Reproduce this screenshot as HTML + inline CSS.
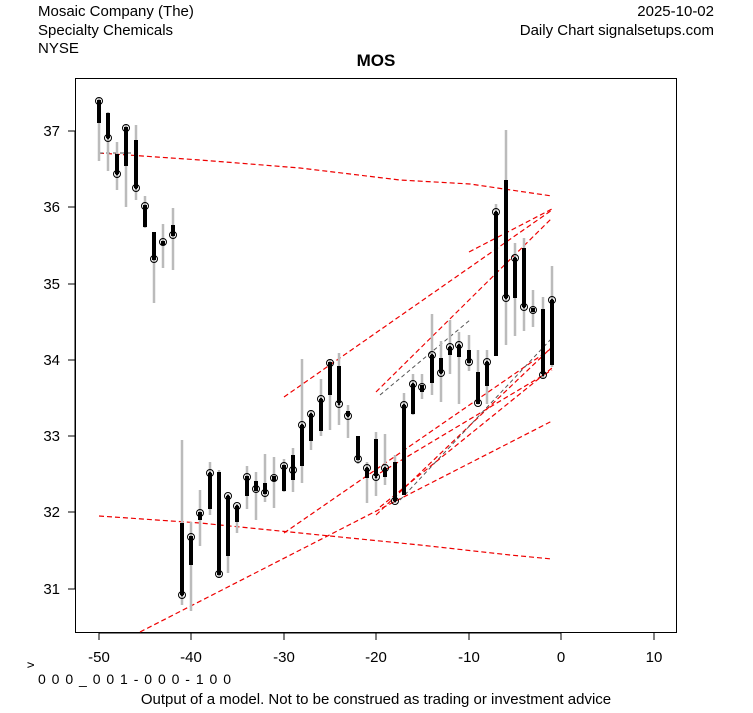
<!DOCTYPE html><html><head><style>body{margin:0;background:#fff}svg{font-family:"Liberation Sans",sans-serif}</style></head><body>
<svg width="753" height="708" xmlns="http://www.w3.org/2000/svg">
<defs><g id="o"><circle r="3.5" fill="none" stroke="#000" stroke-width="1"/><circle r="1.3" fill="#000"/></g></defs>
<rect width="753" height="708" fill="#fff"/>
<text x="38" y="16" font-size="15">Mosaic Company (The)</text>
<text x="38" y="35" font-size="15">Specialty Chemicals</text>
<text x="38" y="53" font-size="15">NYSE</text>
<text x="714" y="16" font-size="15" text-anchor="end">2025-10-02</text>
<text x="714" y="35" font-size="15" text-anchor="end">Daily Chart signalsetups.com</text>
<text x="376" y="66" font-size="17" font-weight="bold" text-anchor="middle">MOS</text>
<rect x="75.5" y="78.5" width="601" height="554" fill="none" stroke="#000"/>
<g stroke="#000"><line x1="99" y1="633" x2="561" y2="633"/>
<line x1="99" y1="633" x2="99" y2="640"/><line x1="191" y1="633" x2="191" y2="640"/><line x1="284" y1="633" x2="284" y2="640"/><line x1="376" y1="633" x2="376" y2="640"/><line x1="469" y1="633" x2="469" y2="640"/><line x1="561" y1="633" x2="561" y2="640"/><line x1="654" y1="633" x2="654" y2="640"/>
<line x1="75" y1="131" x2="75" y2="589"/>
<line x1="68" y1="131" x2="75" y2="131"/><line x1="68" y1="207" x2="75" y2="207"/><line x1="68" y1="284" x2="75" y2="284"/><line x1="68" y1="360" x2="75" y2="360"/><line x1="68" y1="436" x2="75" y2="436"/><line x1="68" y1="512" x2="75" y2="512"/><line x1="68" y1="589" x2="75" y2="589"/></g>
<g font-size="15" text-anchor="middle"><text x="99" y="662">-50</text><text x="191" y="662">-40</text><text x="284" y="662">-30</text><text x="376" y="662">-20</text><text x="469" y="662">-10</text><text x="561" y="662">0</text><text x="654" y="662">10</text></g>
<g font-size="15" text-anchor="end"><text x="60" y="136">37</text><text x="60" y="212">36</text><text x="60" y="289">35</text><text x="60" y="365">34</text><text x="60" y="441">33</text><text x="60" y="517">32</text><text x="60" y="594">31</text></g>
<text x="34" y="668" font-size="12" transform="rotate(-90 34 668)">v</text>
<text x="38" y="684" font-size="14" letter-spacing="1">0 0 0 _ 0 0 1 - 0 0 0 - 1 0 0</text>
<text x="376" y="704" font-size="15" text-anchor="middle">Output of a model. Not to be construed as trading or investment advice</text>
<g fill="none" stroke="#e00" stroke-width="1.2" stroke-dasharray="5,3">
<path d="M99 153 L200 160 L300 168 L400 180 L470 184 L552 196"/>
<path d="M99 516 L200 523 L300 533 L420 545 L510 555 L552 559"/>
<path d="M140 632 L552 421"/>
<path d="M284 397 L552 210"/>
<path d="M469 252 L552 209"/>
<path d="M376 392 L552 218"/>
<path d="M284 533 L552 348"/>
<path d="M376 515 L552 347"/>
<path d="M380 507 L552 368"/>
<path d="M380 473 L552 370"/>
</g>
<g fill="none" stroke="#555" stroke-width="1" stroke-dasharray="4,3">
<path d="M99 153 L140 153"/><path d="M380 395 L470 320"/><path d="M400 500 L552 338"/>
</g>
<path fill="none" stroke="#bbb" stroke-width="2.5" d="M99 97V161 M108 112V171 M117 142V190 M126 125V207 M136 125V200 M145 196V228 M154 235V303 M163 224V268 M173 208V270 M182 440V605 M191 522V611 M200 490V546 M210 462V515 M219 470V578 M228 494V573 M237 504V533 M247 466V509 M256 472V520 M265 454V502 M274 457V508 M284 459V492 M293 448V492 M302 359V483 M311 410V450 M321 379V436 M330 359V430 M339 353V425 M348 405V438 M358 436V464 M367 462V503 M376 432V496 M385 434V485 M395 455V503 M404 393V495 M413 374V415 M422 374V399 M432 314V395 M441 341V402 M450 320V374 M459 332V404 M469 335V371 M478 350V380 M487 350V404 M496 204V356 M506 130V345 M515 243V336 M524 238V331 M533 290V327 M543 297V378 M552 266V367"/>
<path fill="none" stroke="#000" stroke-width="4" d="M99 100V123 M108 113V138 M117 154V174 M126 127V166 M136 140V188 M145 205V227 M154 232V260 M163 241V245 M173 225V236 M182 523V595 M191 536V565 M200 512V520 M210 473V509 M219 472V575 M228 496V556 M237 506V522 M247 476V496 M256 481V491 M265 483V494 M274 476V481 M284 465V491 M293 455V480 M302 425V466 M311 414V441 M321 399V431 M330 362V395 M339 366V403 M348 411V416 M358 436V460 M367 468V478 M376 439V476 M385 468V477 M395 462V501 M404 405V495 M413 384V414 M422 385V392 M432 355V383 M441 358V373 M450 347V355 M459 345V357 M469 350V363 M478 372V404 M487 362V386 M496 212V356 M506 180V298 M515 258V298 M524 248V307 M533 308V312 M543 309V374 M552 300V365"/>
<use href="#o" x="99" y="101"/><use href="#o" x="108" y="138"/><use href="#o" x="117" y="174"/><use href="#o" x="126" y="128"/><use href="#o" x="136" y="188"/><use href="#o" x="145" y="206"/><use href="#o" x="154" y="259"/><use href="#o" x="163" y="242"/><use href="#o" x="173" y="235"/><use href="#o" x="182" y="595"/><use href="#o" x="191" y="537"/><use href="#o" x="200" y="513"/><use href="#o" x="210" y="473"/><use href="#o" x="219" y="574"/><use href="#o" x="228" y="496"/><use href="#o" x="237" y="506"/><use href="#o" x="247" y="477"/><use href="#o" x="256" y="489"/><use href="#o" x="265" y="493"/><use href="#o" x="274" y="478"/><use href="#o" x="284" y="466"/><use href="#o" x="293" y="470"/><use href="#o" x="302" y="425"/><use href="#o" x="311" y="414"/><use href="#o" x="321" y="399"/><use href="#o" x="330" y="363"/><use href="#o" x="339" y="404"/><use href="#o" x="348" y="416"/><use href="#o" x="358" y="459"/><use href="#o" x="367" y="468"/><use href="#o" x="376" y="477"/><use href="#o" x="385" y="468"/><use href="#o" x="395" y="501"/><use href="#o" x="404" y="405"/><use href="#o" x="413" y="384"/><use href="#o" x="422" y="387"/><use href="#o" x="432" y="355"/><use href="#o" x="441" y="373"/><use href="#o" x="450" y="347"/><use href="#o" x="459" y="345"/><use href="#o" x="469" y="362"/><use href="#o" x="478" y="403"/><use href="#o" x="487" y="362"/><use href="#o" x="496" y="212"/><use href="#o" x="506" y="298"/><use href="#o" x="515" y="258"/><use href="#o" x="524" y="307"/><use href="#o" x="533" y="310"/><use href="#o" x="543" y="375"/><use href="#o" x="552" y="300"/>
</svg></body></html>
